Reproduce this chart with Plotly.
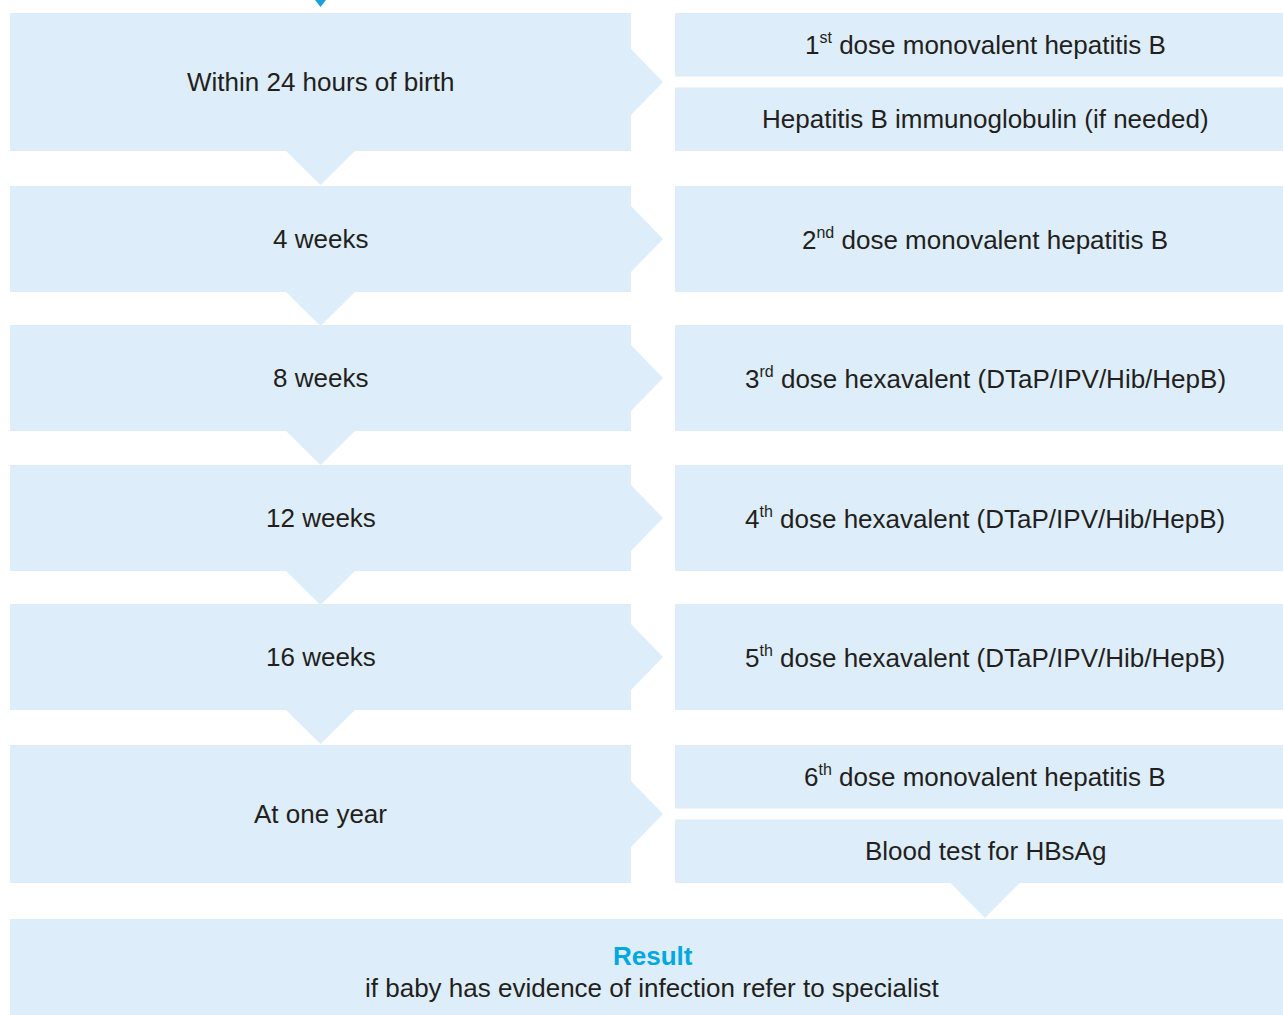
import plotly.graph_objects as go

# ---- content ----
time_labels = ["Within 24 hours of birth", "4 weeks", "8 weeks", "12 weeks", "16 weeks", "At one year"]


def sup(n, s):
    return f"{n}<sup><span style='font-size:16px'>{s}</span></sup>"

action_labels = [
    [sup("1", "st") + " dose monovalent hepatitis B", "Hepatitis B immunoglobulin (if needed)"],
    [sup("2", "nd") + " dose monovalent hepatitis B"],
    [sup("3", "rd") + " dose hexavalent (DTaP/IPV/Hib/HepB)"],
    [sup("4", "th") + " dose hexavalent (DTaP/IPV/Hib/HepB)"],
    [sup("5", "th") + " dose hexavalent (DTaP/IPV/Hib/HepB)"],
    [sup("6", "th") + " dose monovalent hepatitis B", "Blood test for HBsAg"],
]
result_title = "Result"
result_text = "if baby has evidence of infection refer to specialist"

# ---- layout geometry (pixels) ----
W, H = 1283, 1015
row_tops = [13, 186, 325, 465, 604, 745]
row_bots = [151, 292, 431, 571, 710, 883]
LX0, LX1 = 10, 631
RX0, RX1 = 675, 1295
RES_TOP, RES_BOT = 919, 1015
BOX = "#ddedfa"
TXT = "#231f20"
BLUE = "#00a8e1"
FONT = "Liberation Sans, Arial, sans-serif"
FS = 26

shapes = []
annotations = []

def poly(pts, color):
    path = "M " + " L ".join(f"{x},{y}" for x, y in pts) + " Z"
    shapes.append(dict(type="path", path=path, fillcolor=color, line=dict(width=0), layer="below",
                       xref="x", yref="y"))

def text(x, y, s, color=TXT, size=FS, bold=False):
    if bold:
        s = f"<b>{s}</b>"
    annotations.append(dict(x=x, y=y, xref="x", yref="y", text=s, showarrow=False,
                            font=dict(family=FONT, size=size, color=color),
                            xanchor="center", yanchor="middle"))

lcx = (LX0 + LX1) / 2
rcx = (RX0 + RX1) / 2

# top incoming arrow
poly([(lcx - 7, -2), (lcx + 7, -2), (lcx, 7)], "#1ba0dc")

for i, (t, b) in enumerate(zip(row_tops, row_bots)):
    c = (t + b) / 2
    pts = [(LX0, t), (LX1, t), (LX1, c - 33), (LX1 + 32, c), (LX1, c + 33), (LX1, b)]
    if i < len(row_tops) - 1:
        pts += [(lcx + 34.5, b), (lcx, b + 34), (lcx - 34.5, b)]
    pts += [(LX0, b)]
    poly(pts, BOX)
    text(lcx, c, time_labels[i])

    acts = action_labels[i]
    if len(acts) == 1:
        poly([(RX0, t), (RX1, t), (RX1, b), (RX0, b)], BOX)
        text(rcx, c, acts[0])
    else:
        h = (b - t - 11) / 2
        t1, b1 = t, t + h
        t2, b2 = b - h, b
        poly([(RX0, t1), (RX1, t1), (RX1, b1), (RX0, b1)], BOX)
        pts2 = [(RX0, t2), (RX1, t2), (RX1, b2)]
        if i == len(row_tops) - 1:
            pts2 += [(rcx + 34.5, b2), (rcx, b2 + 35), (rcx - 34.5, b2)]
        pts2 += [(RX0, b2)]
        poly(pts2, BOX)
        text(rcx, (t1 + b1) / 2, acts[0])
        text(rcx, (t2 + b2) / 2, acts[1])

# result box
poly([(LX0, RES_TOP), (RX1, RES_TOP), (RX1, RES_BOT + 5), (LX0, RES_BOT + 5)], BOX)
rescx = (LX0 + RX1) / 2
text(rescx, 956, result_title, color=BLUE, bold=True)
text(rescx, 988, result_text)

fig = go.Figure()
fig.update_layout(
    width=W, height=H,
    margin=dict(l=0, r=0, t=0, b=0),
    paper_bgcolor="white", plot_bgcolor="white",
    xaxis=dict(range=[0, W], visible=False, fixedrange=True),
    yaxis=dict(range=[H, 0], visible=False, fixedrange=True),
    shapes=shapes, annotations=annotations, showlegend=False,
)
fig.write_html("out.html", config=dict(displayModeBar=False),
               post_script="document.body.style.margin='0';document.body.style.overflow='hidden';")
